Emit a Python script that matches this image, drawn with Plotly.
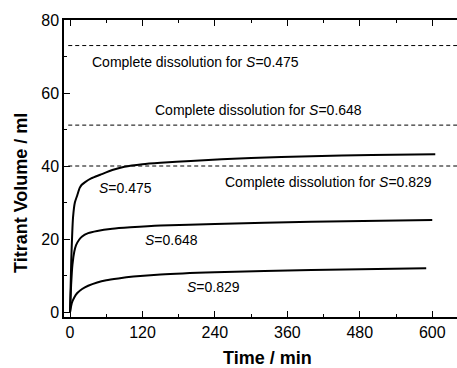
import plotly.graph_objects as go

# ---- data ----
t_475 = [0, 2, 5, 8, 12, 16, 19, 25, 35, 50, 70, 90, 120, 150, 200, 300, 400, 500, 605]
v_475 = [0, 14, 26, 30, 32, 34, 34.8, 35.6, 36.6, 37.6, 38.9, 39.8, 40.5, 40.9, 41.4, 42.2, 42.7, 43.0, 43.2]

t_648 = [0, 2, 4, 7, 10, 15, 20, 30, 45, 70, 100, 150, 240, 400, 600]
v_648 = [0, 8, 13, 16.5, 18.3, 19.8, 20.7, 21.6, 22.2, 22.8, 23.2, 23.7, 24.1, 24.7, 25.2]

t_829 = [0, 3, 7, 12, 20, 30, 45, 60, 80, 105, 150, 240, 400, 590]
v_829 = [0, 2.5, 4.0, 5.2, 6.3, 7.2, 8.1, 8.7, 9.2, 9.7, 10.3, 10.9, 11.5, 12.0]

complete_S = ["0.475", "0.648", "0.829"]
complete_v = [73, 51.2, 40]
complete_x = [-3, 650]

curve_labels = ["0.475", "0.648", "0.829"]
curve_label_x = [45, 121, 191]
curve_label_y = [34, 19.7, 6.8]

complete_label_x = [33, 138, 254]
complete_label_y = [68.5, 55.3, 35.6]

x_ticks = [0, 120, 240, 360, 480, 600]
y_ticks = [0, 20, 40, 60, 80]

FONT = "Liberation Sans, Arial, sans-serif"

fig = go.Figure()

for v in complete_v:
    fig.add_trace(go.Scatter(x=complete_x, y=[v, v], mode="lines",
                             line=dict(color="black", width=1, dash="4px,3px"),
                             showlegend=False, hoverinfo="skip"))

for t, v in [(t_475, v_475), (t_648, v_648), (t_829, v_829)]:
    fig.add_trace(go.Scatter(x=t, y=v, mode="lines",
                             line=dict(color="black", width=2, shape="spline", smoothing=0.6),
                             showlegend=False))

annotations = []
for s, x, y in zip(curve_labels, curve_label_x, curve_label_y):
    annotations.append(dict(x=x, y=y, xref="x", yref="y", text=f"<i>S</i>={s}",
                            showarrow=False, xanchor="left", yanchor="middle",
                            font=dict(family=FONT, size=14, color="black")))
for s, x, y in zip(complete_S, complete_label_x, complete_label_y):
    annotations.append(dict(x=x, y=y, xref="x", yref="y",
                            text=f"Complete dissolution for <i>S</i>={s}",
                            showarrow=False, xanchor="left", yanchor="middle",
                            font=dict(family=FONT, size=14, color="black")))
annotations.append(dict(x=21, y=193, xref="paper", yref="paper", text="<b>Titrant Volume / ml</b>",
                        showarrow=False, textangle=-90, xanchor="center", yanchor="middle",
                        font=dict(family=FONT, size=18, color="black")))
annotations.append(dict(x=267, y=358, xref="paper", yref="paper", text="<b>Time / min</b>",
                        showarrow=False, xanchor="center", yanchor="middle",
                        font=dict(family=FONT, size=18, color="black")))
# convert pixel annotations to paper coords
W, H = 457, 368
L, R, T, B = 64, 0, 20, 51
pw, ph = W - L - R, H - T - B
for a in annotations[-2:]:
    a["x"] = (a["x"] - L) / pw
    a["y"] = 1 - (a["y"] - T) / ph

fig.update_layout(
    width=W, height=H,
    margin=dict(l=L, r=R, t=T, b=B, pad=0),
    paper_bgcolor="white", plot_bgcolor="white",
    font=dict(family=FONT, size=16, color="black"),
    annotations=annotations,
    xaxis=dict(range=[-10, 641], tickvals=x_ticks, ticks="inside", ticklen=6,
               tickwidth=1.2, tickcolor="black", showline=True, linecolor="black",
               linewidth=1.5, mirror="ticks", showgrid=False, zeroline=False,
               minor=dict(dtick=60, tick0=0, ticks="inside", ticklen=3, tickcolor="black"),
               tickfont=dict(size=16)),
    yaxis=dict(range=[-1.37, 80], tickvals=y_ticks, ticks="inside", ticklen=6,
               tickwidth=1.2, tickcolor="black", showline=True, linecolor="black",
               linewidth=1.5, mirror=False, showgrid=False, zeroline=False,
               minor=dict(dtick=10, tick0=0, ticks="inside", ticklen=3, tickcolor="black"),
               tickfont=dict(size=16)),
)

fig.write_html("out.html")
